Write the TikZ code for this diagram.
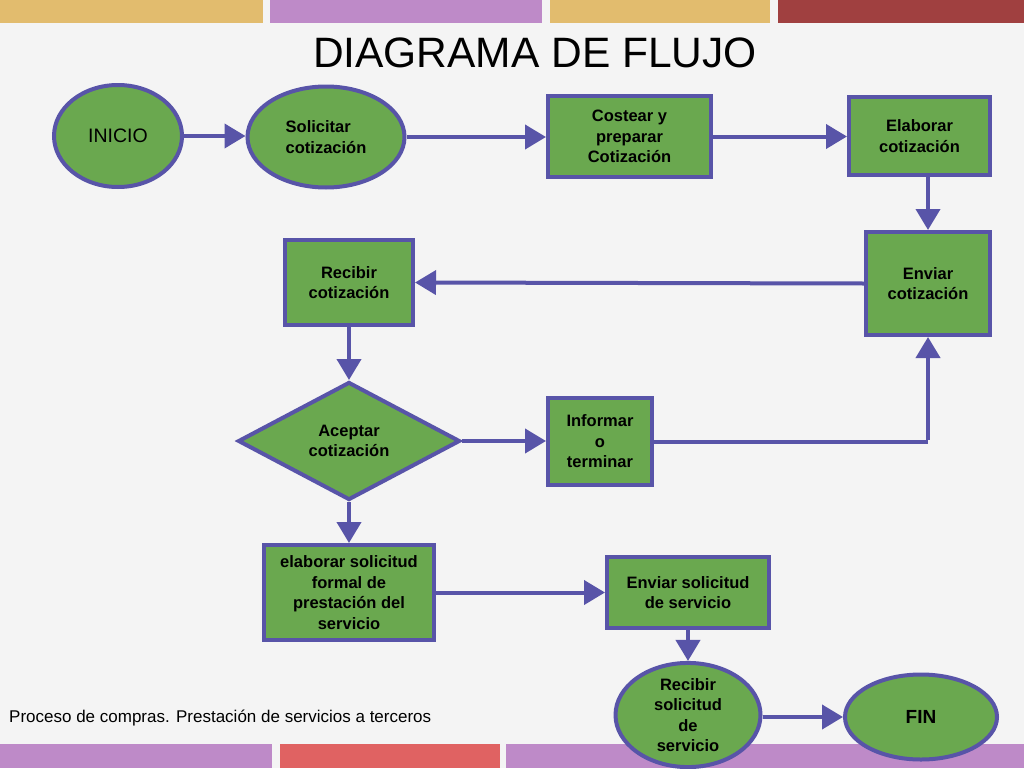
\documentclass[tikz,border=0pt]{standalone}
\usepackage{fontspec}
\setmainfont{Liberation Sans}
\usetikzlibrary{shapes.geometric,arrows.meta}
\definecolor{bg}{RGB}{244,244,244}
\definecolor{tanbar}{RGB}{226,188,110}
\definecolor{purpbar}{RGB}{190,138,200}
\definecolor{darkred}{RGB}{160,64,64}
\definecolor{redbar}{RGB}{224,98,98}
\definecolor{nodegreen}{RGB}{106,168,79}
\definecolor{edgeblue}{RGB}{88,84,168}
\tikzset{
  base/.style={draw=edgeblue, fill=nodegreen, line width=4pt, inner sep=0pt, text=black,
    align=center, font=\fontsize{16.5}{20.5}\selectfont\bfseries},
  oval/.style={base, ellipse},
  box/.style={base, rectangle},
  choice/.style={base, diamond},
  conn/.style={draw=edgeblue, line width=4pt, -{Triangle[length=21pt,width=24pt]}},
  plain/.style={draw=edgeblue, line width=4pt}
}
\begin{document}
\begin{tikzpicture}[x=1pt,y=-1pt]
\useasboundingbox (0,0) rectangle (1024,768);
\fill[bg] (0,0) rectangle (1024,768);
% top bars
\fill[tanbar] (0,0) rectangle (263,23);
\fill[purpbar] (270,0) rectangle (542,23);
\fill[tanbar] (550,0) rectangle (770,23);
\fill[darkred] (778,0) rectangle (1024,23);
% bottom bars
\fill[purpbar] (0,744) rectangle (272,768);
\fill[redbar] (280,744) rectangle (500,768);
\fill[purpbar] (506,744) rectangle (1024,768);

\node[anchor=base, font=\fontsize{42.5}{48}\selectfont] (title) at (535,67) {DIAGRAMA DE FLUJO};
\node[anchor=base west, font=\fontsize{17}{20}\selectfont, inner sep=0pt] (foot) at (9,722) {Proceso de compras. Prestación de servicios a terceros};

\node[oval, minimum width=128, minimum height=102, font=\fontsize{19.5}{22}\selectfont] (ini) at (118,136) {INICIO};
\node[oval, minimum width=157, minimum height=101, align=left] (sol) at (326,137) {Solicitar\\cotización};
\node[box, minimum width=163, minimum height=81] (cos) at (629.5,136.5) {Costear y\\preparar\\Cotización};
\node[box, minimum width=141, minimum height=78] (ela) at (919.5,136) {Elaborar\\cotización};
\node[box, minimum width=124, minimum height=103] (env) at (928,283.5) {Enviar\\cotización};
\node[box, minimum width=128, minimum height=85] (rec) at (349,282.5) {Recibir\\cotización};
\node[choice, minimum width=222, minimum height=118] (acep) at (349,441) {Aceptar\\cotización};
\node[box, minimum width=104, minimum height=87] (inf) at (600,441.5) {Informar\\o\\terminar};
\node[box, minimum width=170, minimum height=95] (elsol) at (349,592.5) {elaborar solicitud\\formal de\\prestación del\\servicio};
\node[box, minimum width=162, minimum height=71] (envsol) at (688,592.5) {Enviar solicitud\\de servicio};
\node[oval, minimum width=145, minimum height=100] (recsol) at (688,715) {Recibir\\solicitud\\de\\servicio};
\node[oval, minimum width=152, minimum height=85, font=\fontsize{19}{22}\selectfont\bfseries] (fin) at (921,717) {FIN};

\draw[conn] (ini.east) -- (ini.east -| sol.west);
\draw[conn] (sol.east) -- (sol.east -| cos.west);
\draw[conn] (cos.east) -- (cos.east -| ela.west);
\draw[conn] (env.north |- ela.south) -- (env.north);
\draw[conn] (env.west) -- (rec.east);
\draw[conn] (rec.south) -- (acep.north);
\draw[conn] (acep.east) -- (acep.east -| inf.west);
\coordinate (turn) at (env.south |- inf.east);
\draw[plain] (inf.east) -- (turn);
\draw[conn] ([yshift=2pt]turn) -- (env.south);
\draw[conn] (acep.south) -- (elsol.north);
\draw[conn] (elsol.east) -- (elsol.east -| envsol.west);
\draw[conn] (envsol.south) -- (recsol.north);
\draw[conn] (recsol.east |- fin.west) -- (fin.west);
\end{tikzpicture}
\end{document}
